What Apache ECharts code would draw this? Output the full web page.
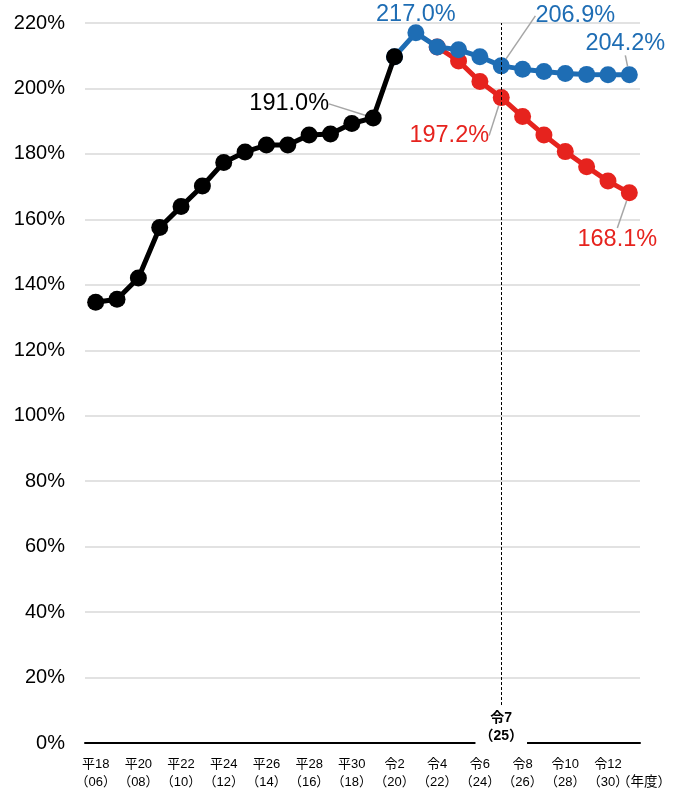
<!DOCTYPE html>
<html>
<head>
<meta charset="utf-8">
<script src="https://cdn.jsdelivr.net/npm/echarts@6/dist/echarts.min.js"></script>
<style>
html,body{margin:0;padding:0;background:#fff;}
#main{width:674px;height:789px;}
</style>
</head>
<body>
<div id="main"></div>
<script>
// Fiscal years (2006..2031)
const years = ['2006','2007','2008','2009','2010','2011','2012','2013','2014','2015','2016','2017','2018','2019','2020','2021','2022','2023','2024','2025','2026','2027','2028','2029','2030','2031'];
const eraLabels = ['平18','平19','平20','平21','平22','平23','平24','平25','平26','平27','平28','平29','平30','令1','令2','令3','令4','令5','令6','令7','令8','令9','令10','令11','令12','令13'];
const shortYears = ['06','07','08','09','10','11','12','13','14','15','16','17','18','19','20','21','22','23','24','25','26','27','28','29','30','31'];

// Actual (black)
const actualValues = [134.7, 135.6, 142.1, 157.5, 163.9, 170.2, 177.4, 180.6, 182.7, 182.7, 185.8, 186.1, 189.3, 191.0, 209.7, null, null, null, null, null, null, null, null, null, null, null];
// Projection A (blue)
const blueValues = [null, null, null, null, null, null, null, null, null, null, null, null, null, null, 209.7, 217.0, 212.7, 211.8, 209.7, 206.9, 205.9, 205.2, 204.6, 204.3, 204.2, 204.2];
// Projection B (red)
const redValues = [null, null, null, null, null, null, null, null, null, null, null, null, null, null, null, null, 212.7, 208.4, 202.1, 197.2, 191.4, 185.8, 180.7, 176.1, 171.7, 168.1];

const yTicks = {min: 0, max: 220, interval: 20};
const markYear = '2025';
const markLabel = '令7\n（25）';

const FONT = '"Liberation Sans", Arial, "Noto Sans CJK JP", sans-serif';
const BLACK = '#000000', BLUE = '#1e6db4', RED = '#e6231e';

// which points carry labels, and where the label sits relative to its point
const labelOffsets = {
  0: { 13: [-84, -14] },                  // black
  1: { 19: [74, -50], 25: [-4, -31] },    // blue
  2: { 19: [-52, 38], 25: [-12, 47] }     // red
};
const topLabels = { 1: [15] };

function buildData(values, seriesIdx) {
  return values.map((v, i) => {
    if (v === null) return '-';
    const off = labelOffsets[seriesIdx] && labelOffsets[seriesIdx][i];
    const top = topLabels[seriesIdx] && topLabels[seriesIdx].indexOf(i) >= 0;
    if (off) {
      return { value: v, label: { show: true, position: 'inside' }, labelLine: { show: true } };
    }
    if (top) {
      return { value: v, label: { show: true, position: 'top', distance: -2 } };
    }
    return v;
  });
}

function makeSeries(name, values, idx, color, z) {
  return {
    name: name,
    type: 'line',
    data: buildData(values, idx),
    z: z,
    symbol: 'circle',
    symbolSize: 17,
    showAllSymbol: true,
    lineStyle: { color: color, width: 5 },
    itemStyle: { color: color },
    label: {
      show: false,
      fontFamily: FONT,
      fontSize: 23.5,
      color: color,
      formatter: (p) => p.value.toFixed(1) + '%'
    },
    labelLine: { show: false, lineStyle: { color: '#a6a6a6', width: 1.5 } },
    labelLayout: function (p) {
      const off = labelOffsets[idx] && labelOffsets[idx][p.dataIndex];
      if (off) return { dx: off[0], dy: off[1] };
      return {};
    },
    emphasis: { disabled: true },
    animation: false
  };
}

const chart = echarts.init(document.getElementById('main'), null, { renderer: 'canvas' });

const redSeries = makeSeries('B', redValues, 2, RED, 2);
const blueSeries = makeSeries('A', blueValues, 1, BLUE, 3);
const blackSeries = makeSeries('実績', actualValues, 0, BLACK, 4);

blueSeries.markLine = {
  silent: true,
  symbol: ['none', 'none'],
  animation: false,
  lineStyle: { color: '#000', type: [3, 2], width: 1 },
  label: {
    show: true,
    position: 'start',
    distance: 2,
    formatter: markLabel,
    fontFamily: FONT,
    fontSize: 14,
    fontWeight: 'bold',
    lineHeight: 18,
    color: '#000',
    backgroundColor: '#fff',
    padding: [2, 4, 0, 4]
  },
  data: [[{ coord: [markYear, 11.6] }, { coord: [markYear, yTicks.max] }]]
};

const option = {
  backgroundColor: '#fff',
  animation: false,
  textStyle: { fontFamily: FONT },
  grid: { left: 85, right: 34, top: 23, bottom: 46, containLabel: false, outerBoundsMode: 'none' },
  xAxis: {
    type: 'category',
    data: years,
    boundaryGap: true,
    name: '（年度）',
    nameLocation: 'end',
    nameGap: -23,
    nameMoveOverlap: false,
    nameTextStyle: {
      fontFamily: FONT, fontSize: 13.5, color: '#000',
      align: 'left', verticalAlign: 'top', padding: [33, 0, 0, 0]
    },
    axisTick: { show: false },
    axisLine: { lineStyle: { color: '#000', width: 2 } },
    axisLabel: {
      interval: (index) => index % 2 === 0 && index <= 24,
      showMinLabel: true,
      showMaxLabel: true,
      hideOverlap: false,
      formatter: (v, i) => eraLabels[i] + '\n（' + shortYears[i] + '）',
      fontFamily: FONT,
      fontSize: 13,
      lineHeight: 18,
      color: '#000',
      margin: 12
    },
    splitLine: { show: false }
  },
  yAxis: {
    type: 'value',
    min: yTicks.min,
    max: yTicks.max,
    interval: yTicks.interval,
    axisLine: { show: false },
    axisTick: { show: false },
    axisLabel: { formatter: '{value}%', fontFamily: FONT, fontSize: 20, color: '#000', margin: 20 },
    splitLine: { lineStyle: { color: '#d9d9d9', width: 1.5 } }
  },
  series: [redSeries, blueSeries, blackSeries]
};

chart.setOption(option);
</script>
</body>
</html>
